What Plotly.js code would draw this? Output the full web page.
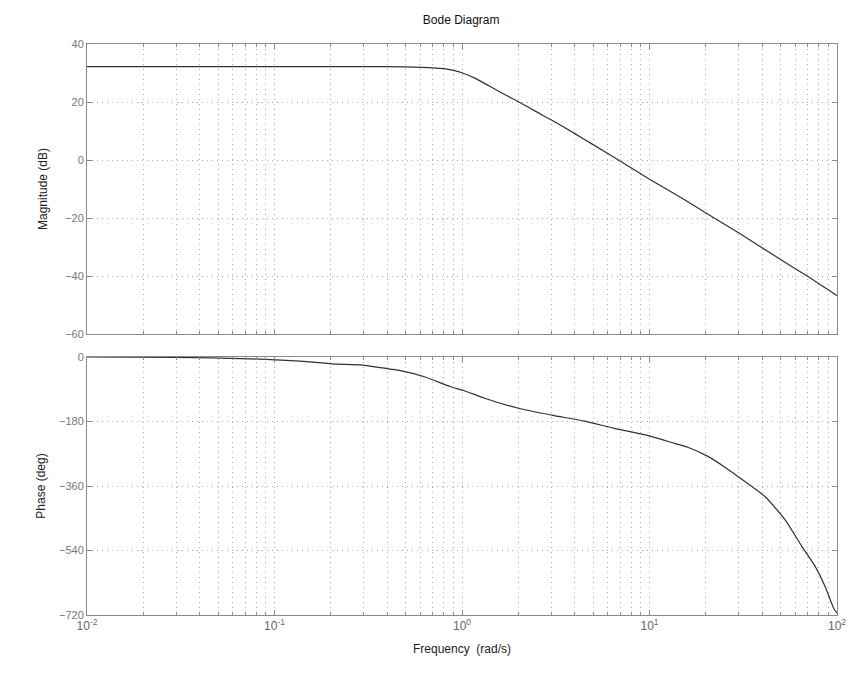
<!DOCTYPE html>
<html>
<head>
<meta charset="utf-8">
<script src="https://cdn.plot.ly/plotly-3.0.1.min.js"></script>
<style>html,body{margin:0;padding:0;background:#fff;}#chart{width:852px;height:685px;}</style>
</head>
<body>
<div id="chart"></div>
<script>
// Magnitude response
const magFreq = [0.01, 0.1, 0.3, 0.5, 0.7, 0.8, 0.9, 1, 1.2, 1.4, 1.7, 2, 2.5, 3, 4, 5, 7, 10, 15, 20, 30, 50, 70, 100];
const magDb   = [32.2, 32.2, 32.2, 32.1, 31.8, 31.5, 30.9, 30.1, 27.9, 25.5, 22.5, 20.1, 16.6, 13.8, 9.1, 5.3, -0.4, -6.6, -13.3, -18.3, -25.2, -34.3, -40.2, -46.8];

// Phase response
const phaseFreq = [0.01, 0.03, 0.074, 0.16, 0.2, 0.29, 0.33, 0.47, 0.63, 0.87, 1.03, 1.32, 2, 3, 4.5, 6.5, 10.3, 13.6, 16, 20.6, 25, 32.4, 41.4, 53, 65, 76.6, 86.5, 96, 100];
const phaseDeg  = [0, -1, -5, -14, -19, -22, -26, -38, -55, -83, -94, -115, -143, -162, -179, -199, -222, -241, -252, -278, -306, -348, -390, -455, -529, -585, -641, -701, -715];

const xTickVals = [0.01, 0.1, 1, 10, 100];
const xTickText = ['10<sup>-2</sup>', '10<sup>-1</sup>', '10<sup>0</sup>', '10<sup>1</sup>', '10<sup>2</sup>'];
const magTicks = [-60, -40, -20, 0, 20, 40];
const phaseTicks = [-720, -540, -360, -180, 0];

const lineColor = '#2b2f4a';
const frameColor = '#8a8a8a';
const gridColor = '#a8a8a8';
const gridDash = '1px,4px';
const font = {family: 'Liberation Sans, Arial, sans-serif', size: 11, color: '#555'};

const traces = [
  {x: magFreq, y: magDb, xaxis: 'x', yaxis: 'y', mode: 'lines',
   line: {color: lineColor, width: 1.2, shape: 'spline', smoothing: 0.6}, hoverinfo: 'skip'},
  {x: phaseFreq, y: phaseDeg, xaxis: 'x2', yaxis: 'y2', mode: 'lines',
   line: {color: lineColor, width: 1.2, shape: 'spline', smoothing: 0.6}, hoverinfo: 'skip'}
];

function xaxisBase(showLabels, anchor) {
  return {
    type: 'log', range: [-2, 2], anchor: anchor,
    tickvals: xTickVals, ticktext: xTickText, showticklabels: showLabels,
    ticks: 'inside', ticklen: 5, tickcolor: frameColor,
    showline: true, linecolor: frameColor, linewidth: 1, mirror: 'ticks',
    showgrid: true, gridcolor: gridColor, griddash: gridDash, gridwidth: 1,
    minor: {showgrid: true, gridcolor: gridColor, griddash: gridDash, ticks: 'inside', ticklen: 3, tickcolor: frameColor, dtick: 'D1'},
    zeroline: false, tickfont: {family: font.family, size: 12, color: '#666'}
  };
}

const layout = {
  width: 852, height: 685,
  margin: {l: 87, r: 15, t: 44, b: 70},
  paper_bgcolor: '#fff', plot_bgcolor: '#fff',
  showlegend: false, font: font,
  title: {text: 'Bode Diagram', x: 0.5413, xanchor: 'center', y: 0.971, yanchor: 'middle',
          font: {family: font.family, size: 12, color: '#111'}},
  xaxis: Object.assign(xaxisBase(false, 'y'), {matches: 'x2'}),
  xaxis2: Object.assign(xaxisBase(true, 'y2'), {
    title: {text: 'Frequency  (rad/s)', standoff: 12, font: {family: font.family, size: 12, color: '#222'}}
  }),
  yaxis: {
    domain: [0.4921, 1], range: [-60, 40], anchor: 'x',
    tickvals: magTicks, ticks: 'inside', ticklen: 5, tickcolor: frameColor,
    showline: true, linecolor: frameColor, mirror: 'ticks',
    showgrid: true, gridcolor: gridColor, griddash: gridDash, zeroline: false,
    tickfont: {family: font.family, size: 11, color: '#777'},
    title: {text: 'Magnitude (dB)', standoff: 14, font: {family: font.family, size: 12, color: '#222'}}
  },
  yaxis2: {
    domain: [0, 0.4518], range: [-720, 0], anchor: 'x2',
    tickvals: phaseTicks, ticks: 'inside', ticklen: 5, tickcolor: frameColor,
    showline: true, linecolor: frameColor, mirror: 'ticks',
    showgrid: true, gridcolor: gridColor, griddash: gridDash, zeroline: false,
    tickfont: {family: font.family, size: 11, color: '#777'},
    title: {text: 'Phase (deg)', standoff: 10, font: {family: font.family, size: 12, color: '#222'}}
  }
};

Plotly.newPlot('chart', traces, layout, {staticPlot: true, displayModeBar: false});
</script>
</body>
</html>
